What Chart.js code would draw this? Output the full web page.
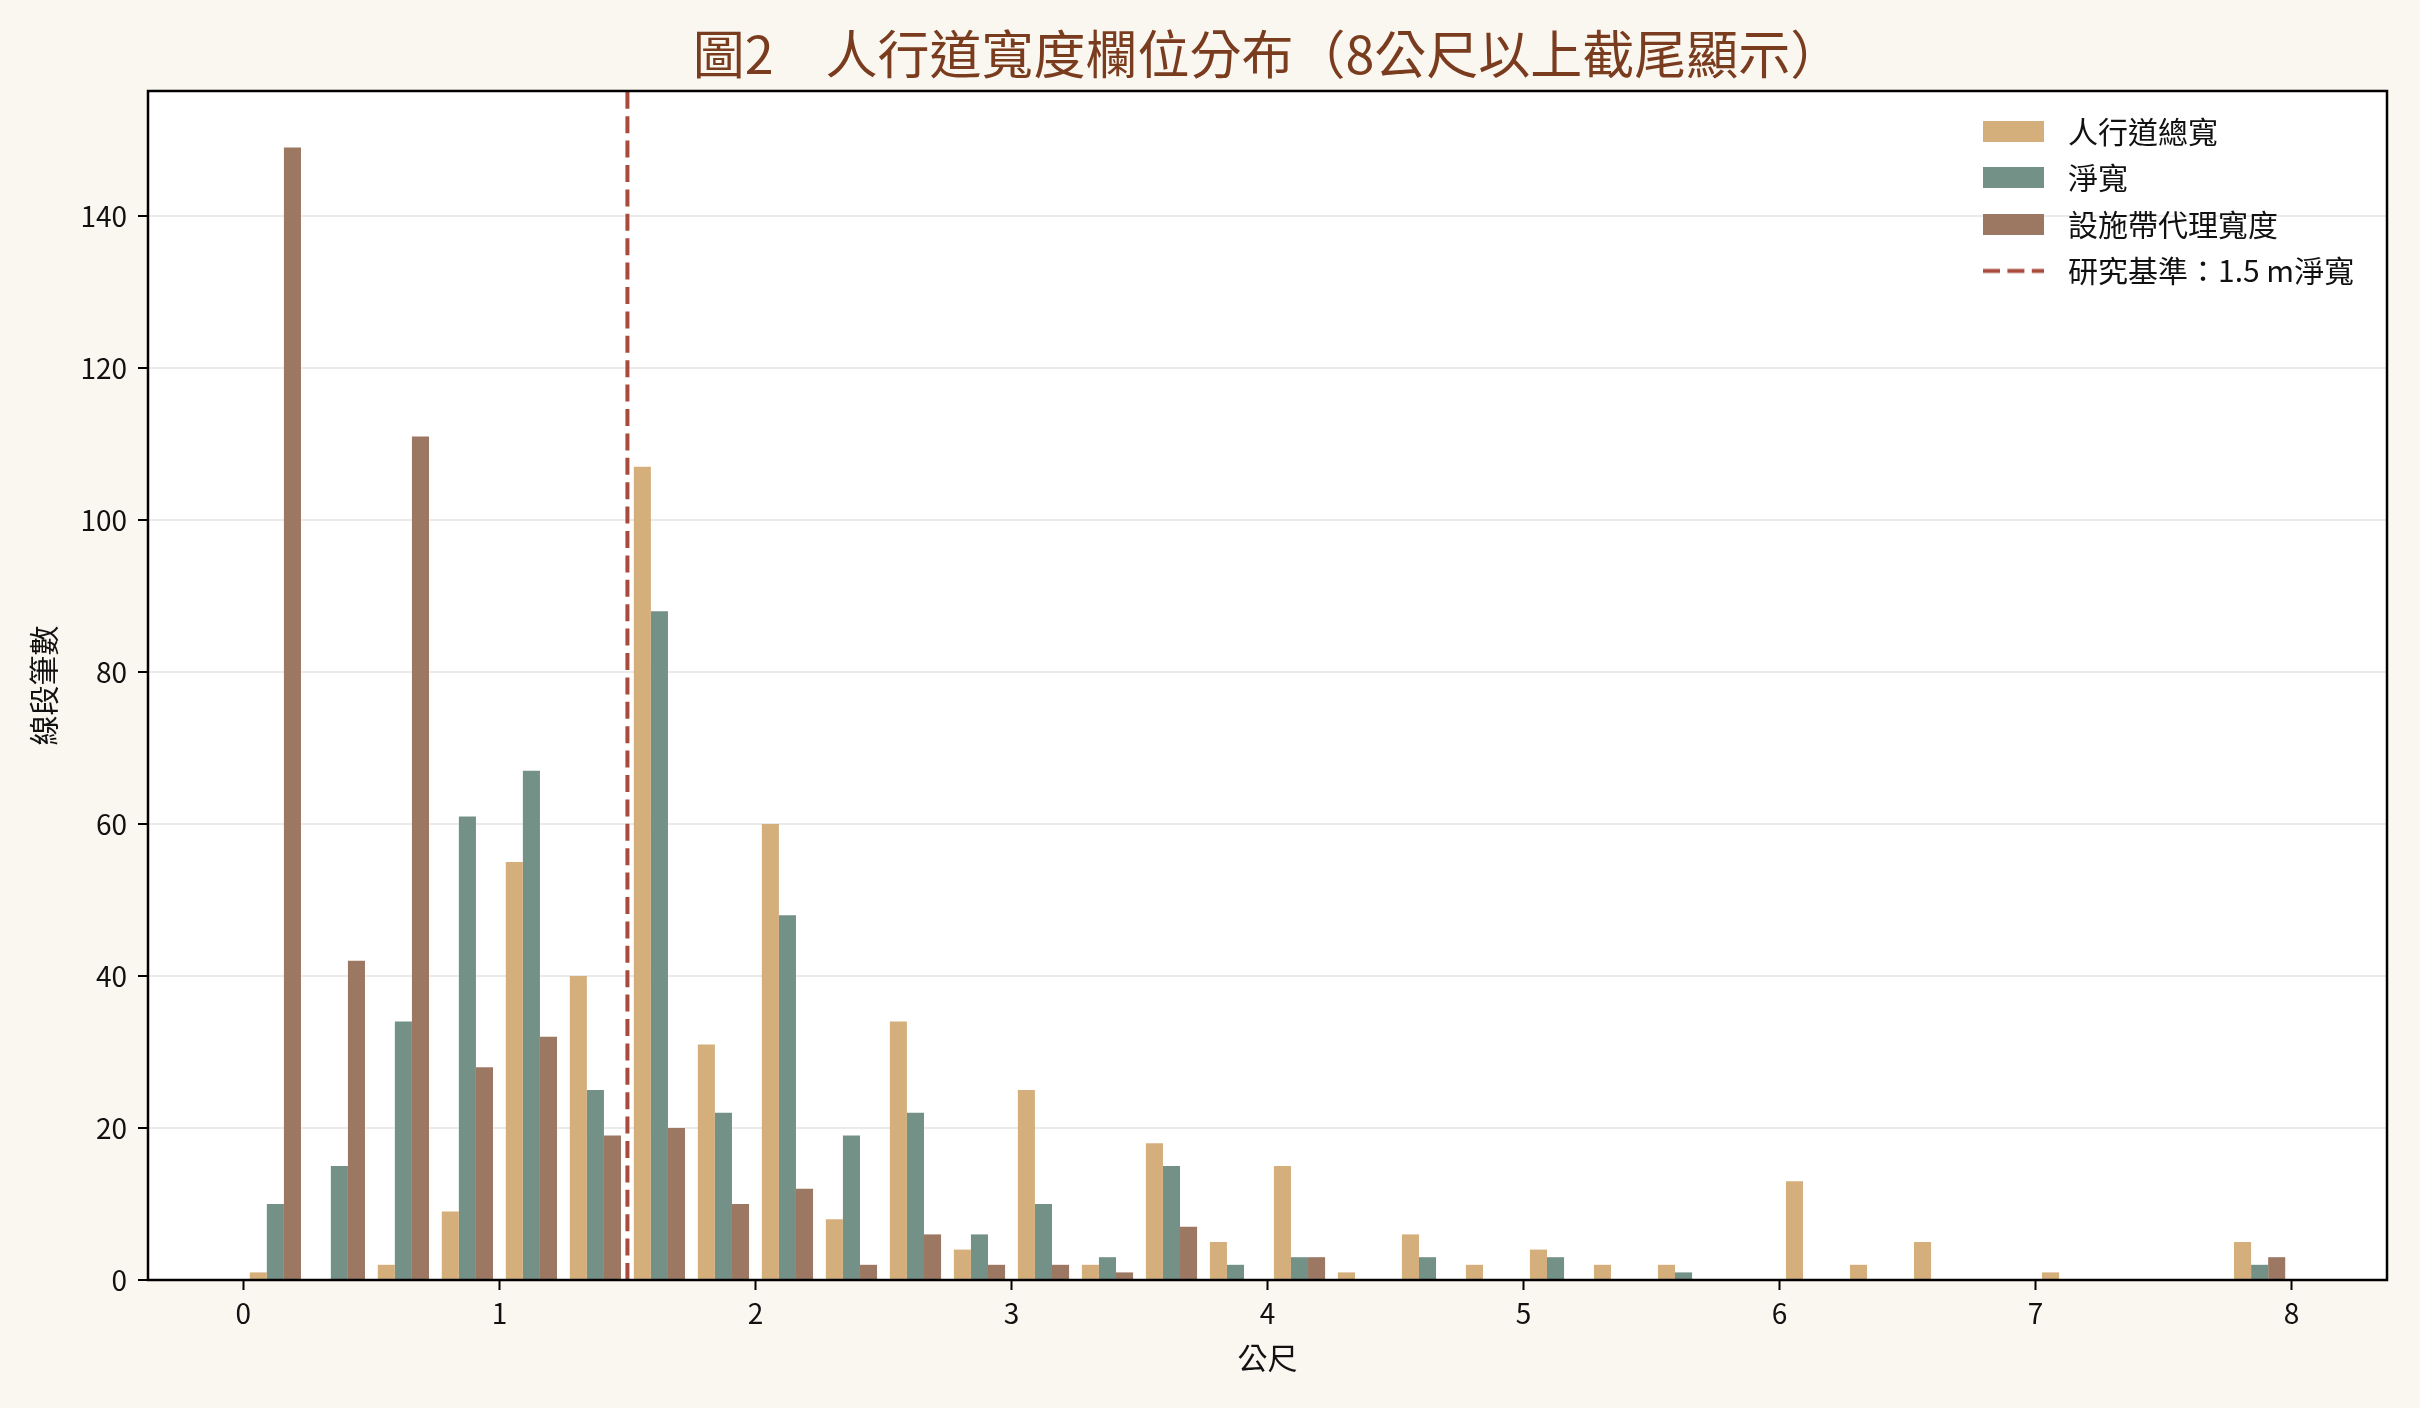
<!DOCTYPE html>
<html lang="zh-Hant">
<head>
<meta charset="utf-8">
<title>人行道寬度欄位分布</title>
<script src="https://cdn.jsdelivr.net/npm/chart.js@4.4.1/dist/chart.umd.min.js"></script>
<style>
  html, body { margin: 0; padding: 0; background: #faf6f0; }
  canvas { display: block; }
</style>
</head>
<body>
<canvas id="chart" width="2420" height="1408"></canvas>
<script>
// 0.25 m bins; anything wider than 8 m is folded into the last bin
const BIN_CENTERS = [
  0.125, 0.375, 0.625, 0.875, 1.125, 1.375, 1.625, 1.875,
  2.125, 2.375, 2.625, 2.875, 3.125, 3.375, 3.625, 3.875,
  4.125, 4.375, 4.625, 4.875, 5.125, 5.375, 5.625, 5.875,
  6.125, 6.375, 6.625, 6.875, 7.125, 7.375, 7.625, 7.875,
];
const TOTAL_WIDTH = [
  1, 0, 2, 9, 55, 40, 107, 31,
  60, 8, 34, 4, 25, 2, 18, 5,
  15, 1, 6, 2, 4, 2, 2, 0,
  13, 2, 5, 0, 1, 0, 0, 5,
];
const CLEAR_WIDTH = [
  10, 15, 34, 61, 67, 25, 88, 22,
  48, 19, 22, 6, 10, 3, 15, 2,
  3, 0, 3, 0, 3, 0, 1, 0,
  0, 0, 0, 0, 0, 0, 0, 2,
];
const FURNITURE_WIDTH = [
  149, 42, 111, 28, 32, 19, 20, 10,
  12, 2, 6, 2, 2, 1, 7, 0,
  3, 0, 0, 0, 0, 0, 0, 0,
  0, 0, 0, 0, 0, 0, 0, 3,
];
const SERIES_LABELS = ['人行道總寬', '淨寬', '設施帶代理寬度'];
const THRESHOLD = 1.5;
const THRESHOLD_LABEL = '研究基準：1.5 m淨寬';
const X_TICKS = [0, 1, 2, 3, 4, 5, 6, 7, 8];
const Y_TICKS = [0, 20, 40, 60, 80, 100, 120, 140];
const X_MIN = -0.3725;
const X_MAX = 8.3725;
const Y_MAX = 156.45;

const COLORS = {
  total: '#d4af7b',
  clear: '#739186',
  furniture: '#9c7762',
  line: '#a84b3c',
  title: '#7a3c1e',
  text: '#111111',
  grid: '#ebebeb',
  paper: '#faf6f0',
};
const DASH = [17, 7.4];

Chart.defaults.font.family = '"Noto Sans CJK TC", "Noto Sans CJK SC", "Noto Sans", sans-serif';
Chart.defaults.color = COLORS.text;

function points(values) {
  return values.map((y, i) => ({ x: BIN_CENTERS[i], y }));
}

// legend handles, matplotlib-style: 61x21 patch (or dashed line) plus a bit of gap on the right
function swatch(color, dashed) {
  const c = document.createElement('canvas');
  c.width = 70; c.height = 21;
  const g = c.getContext('2d');
  if (dashed) {
    g.strokeStyle = color; g.lineWidth = 4; g.setLineDash(DASH);
    g.beginPath(); g.moveTo(0, 10.5); g.lineTo(61, 10.5); g.stroke();
  } else {
    g.fillStyle = color; g.fillRect(0, 0, 61, 21);
  }
  return c;
}
const LEGEND_MARKS = [
  swatch(COLORS.total), swatch(COLORS.clear), swatch(COLORS.furniture), swatch(COLORS.line, true),
];

const paper = {
  id: 'paper',
  beforeDraw(chart) {
    const { ctx, width, height, chartArea: a } = chart;
    ctx.save();
    ctx.fillStyle = COLORS.paper;
    ctx.fillRect(0, 0, width, height);
    ctx.fillStyle = '#ffffff';
    ctx.fillRect(a.left, a.top, a.width, a.height);
    ctx.restore();
  },
  afterDraw(chart) {
    const { ctx, chartArea: a } = chart;
    ctx.save();
    ctx.strokeStyle = '#000';
    ctx.lineWidth = 2.5;
    ctx.strokeRect(a.left, a.top, a.width, a.height);
    ctx.restore();
  },
};

// put the legend in the upper right corner of the plot
const legendPlacer = {
  id: 'legendPlacer',
  afterLayout(chart) {
    const lg = chart.legend;
    if (!lg) return;
    const a = chart.chartArea;
    const pad = lg.options.labels.padding;
    lg.left = a.right - 404 - pad;
    lg.top = a.top + 25.4 - pad;
    lg.right = lg.left + lg.width;
    lg.bottom = lg.top + lg.height;
  },
};

new Chart(document.getElementById('chart'), {
  type: 'bar',
  data: {
    datasets: [
      { label: SERIES_LABELS[0], data: points(TOTAL_WIDTH), backgroundColor: COLORS.total },
      { label: SERIES_LABELS[1], data: points(CLEAR_WIDTH), backgroundColor: COLORS.clear },
      { label: SERIES_LABELS[2], data: points(FURNITURE_WIDTH), backgroundColor: COLORS.furniture },
      {
        type: 'line', label: THRESHOLD_LABEL,
        data: [{ x: THRESHOLD, y: 0 }, { x: THRESHOLD, y: Y_MAX }],
        borderColor: COLORS.line, borderWidth: 4, borderDash: DASH,
        pointRadius: 0, fill: false,
      },
    ],
  },
  options: {
    responsive: false,
    animation: false,
    devicePixelRatio: 1,
    layout: { padding: { left: 0, right: 33, top: 0, bottom: 0 } },
    datasets: {
      bar: { categoryPercentage: 0.8, barPercentage: 1, borderWidth: 0, inflateAmount: 0 },
    },
    scales: {
      x: {
        type: 'linear', min: X_MIN, max: X_MAX, offset: false,
        afterBuildTicks: (s) => { s.ticks = X_TICKS.map((value) => ({ value })); },
        afterFit: (s) => { s.height = 128; },
        grid: { offset: false, drawOnChartArea: false, tickLength: 10, tickWidth: 2, tickColor: '#000' },
        border: { display: false },
        ticks: { font: { size: 28 }, padding: 7, maxRotation: 0, autoSkip: false, callback: (v) => String(v) },
        title: { display: true, text: '公尺', font: { size: 30 }, padding: { top: 0, bottom: 32 } },
      },
      y: {
        type: 'linear', min: 0, max: Y_MAX,
        afterBuildTicks: (s) => { s.ticks = Y_TICKS.map((value) => ({ value })); },
        afterFit: (s) => { s.width = 148; },
        grid: { color: COLORS.grid, lineWidth: 2, tickLength: 10, tickWidth: 2, tickColor: '#000' },
        border: { display: false },
        ticks: { font: { size: 28 }, padding: 11, callback: (v) => String(v) },
        title: { display: true, text: '線段筆數', font: { size: 30 }, padding: { top: 26, bottom: 0 } },
      },
    },
    plugins: {
      title: {
        display: true,
        text: '圖2　人行道寬度欄位分布（8公尺以上截尾顯示）',
        color: COLORS.title,
        font: { size: 52, weight: 'normal' },
        padding: { top: 22.8, bottom: 5.8 },
        fullSize: false,
      },
      legend: {
        position: 'chartArea',
        align: 'start',
        labels: {
          usePointStyle: true,
          pointStyleWidth: 70,
          boxHeight: 21,
          padding: 16.5,
          font: { size: 30 },
          generateLabels: (chart) => chart.data.datasets.map((ds, i) => ({
            text: ds.label,
            pointStyle: LEGEND_MARKS[i],
            fontColor: COLORS.text,
            fillStyle: 'transparent',
            strokeStyle: 'transparent',
            lineWidth: 0,
            hidden: false,
            datasetIndex: i,
          })),
        },
      },
      tooltip: { enabled: false },
    },
  },
  plugins: [paper, legendPlacer],
});
</script>
</body>
</html>
